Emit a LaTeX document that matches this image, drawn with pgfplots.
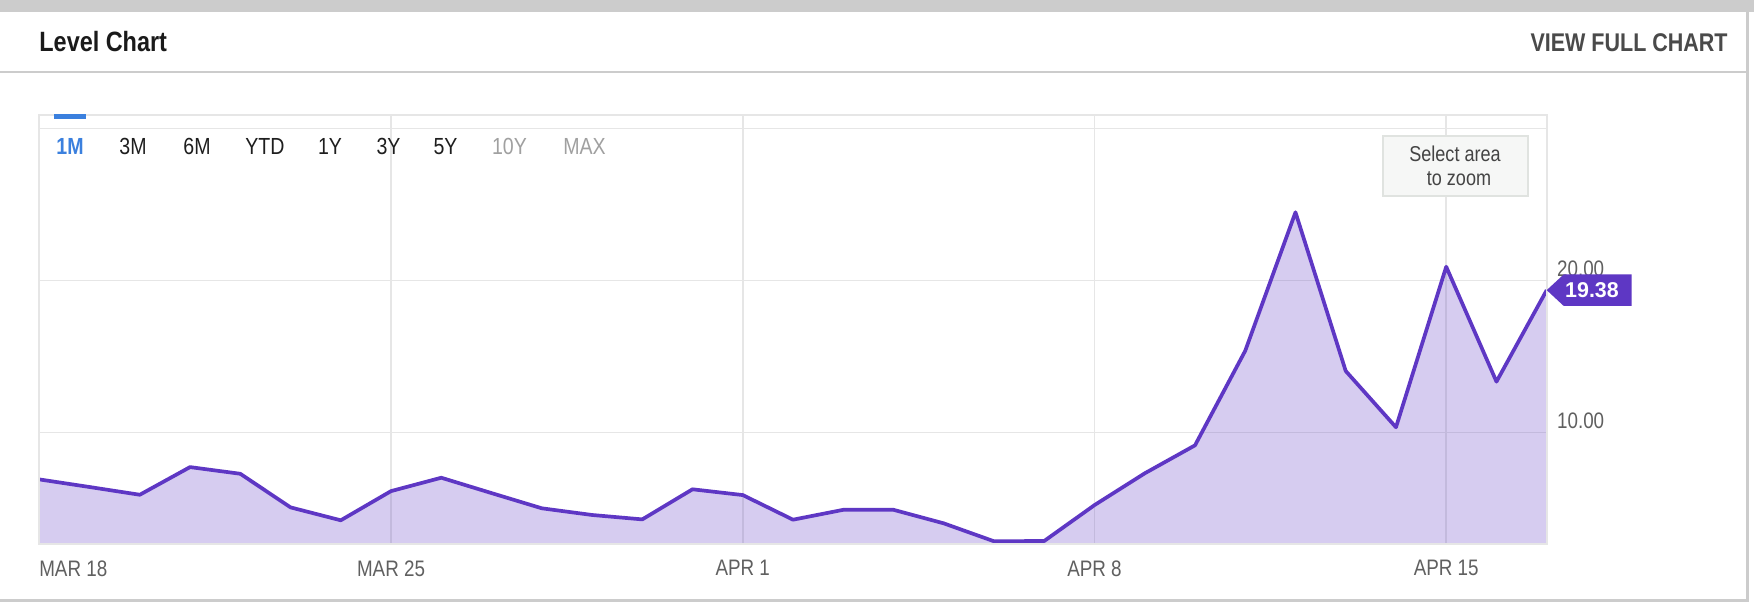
\documentclass[border=0pt]{standalone}
\usepackage{fontspec}
\setmainfont[FakeStretch=0.84]{Liberation Sans}
\newfontfamily\plainfont{Liberation Sans}
\usepackage{pgfplots}
\pgfplotsset{compat=1.18}
\usepackage{pgfplotstable}
\definecolor{linecol}{HTML}{5E37C4}
\definecolor{cardgray}{HTML}{CCCCCC}
\definecolor{gridgray}{HTML}{E6E6E6}
\definecolor{ticklab}{HTML}{606060}
\definecolor{titlecol}{HTML}{1A1A1A}
\definecolor{viewcol}{HTML}{4A4A4A}
\definecolor{selblue}{HTML}{3B80DE}
\definecolor{btntext}{HTML}{1E1E1E}
\definecolor{btngray}{HTML}{A0A0A0}
\definecolor{boxfill}{HTML}{F6F7F6}
\definecolor{boxdraw}{HTML}{E0E3E0}
\definecolor{boxtext}{HTML}{444444}

\pgfplotstableread{
day val
0 6.93
1 6.43
2 5.92
3 7.74
4 7.30
5 5.09
6 4.24
7 6.16
8 7.04
9 6.03
10 5.03
11 4.59
12 4.30
13 6.28
14 5.90
15 4.28
16 4.93
17 4.93
18 4.04
19 2.86
20 2.88
21 5.24
22 7.33
23 9.17
24 15.39
25 24.50
26 14.06
27 10.36
28 20.92
29 13.36
30 19.38
}\leveldata

\begin{document}
\begin{tikzpicture}
\begin{scope}[x=0.5pt,y=-0.5pt]
\useasboundingbox (0,0) rectangle (1754,602);
\fill[white] (0,0) rectangle (1754,602);
\fill[cardgray] (0,0) rectangle (1754,11.7);
\fill[cardgray] (0,71.3) rectangle (1748,73.3);
\fill[cardgray] (1745.5,11.7) rectangle (1748.5,602);
\fill[cardgray] (0,599) rectangle (1748.5,602);
\node[anchor=base west, inner sep=0pt, text=titlecol, font=\fontsize{13.95}{16}\selectfont\bfseries] at (39,51.7) {Level Chart};
\node[anchor=base east, inner sep=0pt, text=viewcol, font=\fontsize{12.8}{15}\selectfont\bfseries] at (1728,51.7) {VIEW FULL CHART};
\end{scope}

\begin{axis}[
  at={(19.65pt,-272pt)}, anchor=south west,
  scale only axis, width=753.7pt, height=214.5pt,
  xmin=0, xmax=30, ymin=2.68, ymax=30.9,
  axis line style={draw=none},
  major tick length=0pt,
  xtick={0,7,14,21,28},
  xticklabels={\makebox[0pt][l]{MAR 18},MAR 25,APR 1,APR 8,APR 15},
  ytick={10,20,30},
  yticklabels={10.00,20.00,{}},
  yticklabel pos=right,
  grid=major,
  major grid style={draw=gridgray, line width=0.75pt},
  xticklabel style={anchor=north, inner sep=0pt, yshift=-8pt, text=ticklab, font=\fontsize{11.2}{13}\selectfont},
  yticklabel style={anchor=south west, inner sep=0pt, xshift=5pt, yshift=2pt, text=ticklab, font=\fontsize{11.2}{13}\selectfont},
  clip mode=individual,
]
\addplot[draw=none, fill=linecol, fill opacity=0.25] table[x=day,y=val]{\leveldata} \closedcycle;
\addplot[linecol, line width=1.85pt, line join=round] table[x=day,y=val]{\leveldata};
\draw[gridgray, line width=1pt] (rel axis cs:0,0) rectangle (rel axis cs:1,1);
\fill[linecol] (axis cs:30,19.38) -- ++(8.5pt,7.85pt) -- ++(34pt,0pt) -- ++(0pt,-15.75pt) -- ++(-34pt,0pt) -- cycle;
\node[anchor=base, inner sep=0pt, text=white, font=\plainfont\fontsize{10.7}{12}\selectfont\bfseries] at ([xshift=22.65pt,yshift=-3.8pt]axis cs:30,19.38) {19.38};
\end{axis}

\begin{scope}[x=0.5pt,y=-0.5pt]
\fill[selblue] (53.6,114.3) rectangle (86.1,119.3);
\tikzset{btn/.style={anchor=base, inner sep=0pt, text=btntext, font=\fontsize{11.65}{14}\selectfont}}
\node[btn, text=selblue, font=\fontsize{11.65}{14}\selectfont\bfseries] at (70,154) {1M};
\node[btn] at (133,154) {3M};
\node[btn] at (197,154) {6M};
\node[btn] at (265,154) {YTD};
\node[btn] at (330,154) {1Y};
\node[btn] at (388.5,154) {3Y};
\node[btn] at (445.5,154) {5Y};
\node[btn, text=btngray] at (509.5,154) {10Y};
\node[btn, text=btngray] at (584.5,154) {MAX};
\filldraw[fill=boxfill, draw=boxdraw, line width=1pt] (1382.5,136) rectangle (1527.5,196);
\node[anchor=base, inner sep=0pt, text=boxtext, font=\fontsize{10.75}{13}\selectfont] at (1455,161) {Select area};
\node[anchor=base, inner sep=0pt, text=boxtext, font=\fontsize{10.75}{13}\selectfont] at (1459,185) {to zoom};
\end{scope}
\end{tikzpicture}
\end{document}
